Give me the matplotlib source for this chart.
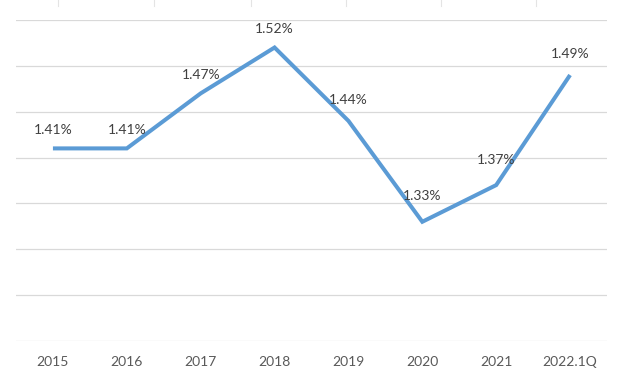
import matplotlib
matplotlib.use("Agg")
import matplotlib.pyplot as plt
from matplotlib.lines import Line2D

categories = ["2015", "2016", "2017", "2018", "2019", "2020", "2021", "2022.1Q"]
values = [1.41, 1.41, 1.47, 1.52, 1.44, 1.33, 1.37, 1.49]
labels = ["1.41%", "1.41%", "1.47%", "1.52%", "1.44%", "1.33%", "1.37%", "1.49%"]
y_ticks = [1.20, 1.25, 1.30, 1.35, 1.40, 1.45, 1.50, 1.55]

# label offsets above the points (style, in points)
label_dy = [9, 9, 9, 9, 11, 14, 14, 11]

plt.rcParams['font.family'] = ['Lato', 'DejaVu Sans']

fig = plt.figure(figsize=(6.18, 3.8), dpi=100)
ax = fig.add_axes([16/618, 39/380, 591/618, 321/380])

x = list(range(len(categories)))
ax.plot(x, values, color="#5B9BD5", linewidth=2.9, solid_capstyle="butt", solid_joinstyle="miter", zorder=3)

for xi, v, lab, dy in zip(x, values, labels, label_dy):
    ax.annotate(lab, (xi, v), xytext=(0, dy), textcoords="offset points",
                ha="center", va="bottom", fontsize=10, color="#404040")

ax.set_xlim(-0.5, len(categories) - 0.5)
ax.set_ylim(y_ticks[0], y_ticks[-1])
ax.set_yticks(y_ticks)
ax.set_yticklabels([])
ax.tick_params(axis="y", length=0)
ax.set_xticks(x)
ax.set_xticklabels(categories, fontsize=10, color="#595959")
ax.tick_params(axis="x", length=0, pad=11)
ax.grid(axis="y", color="#D9D9D9", linewidth=0.9)
ax.set_axisbelow(True)
for s in ax.spines.values():
    s.set_visible(False)

# faint separator marks at the very top of the image
for px in [58, 154, 251, 346, 441, 536]:
    fig.add_artist(Line2D([px/618, px/618], [1.0, 1 - 6/380], transform=fig.transFigure,
                          color="#E4E4E4", linewidth=0.8))

fig.savefig("out.png", dpi=100, facecolor="white")
